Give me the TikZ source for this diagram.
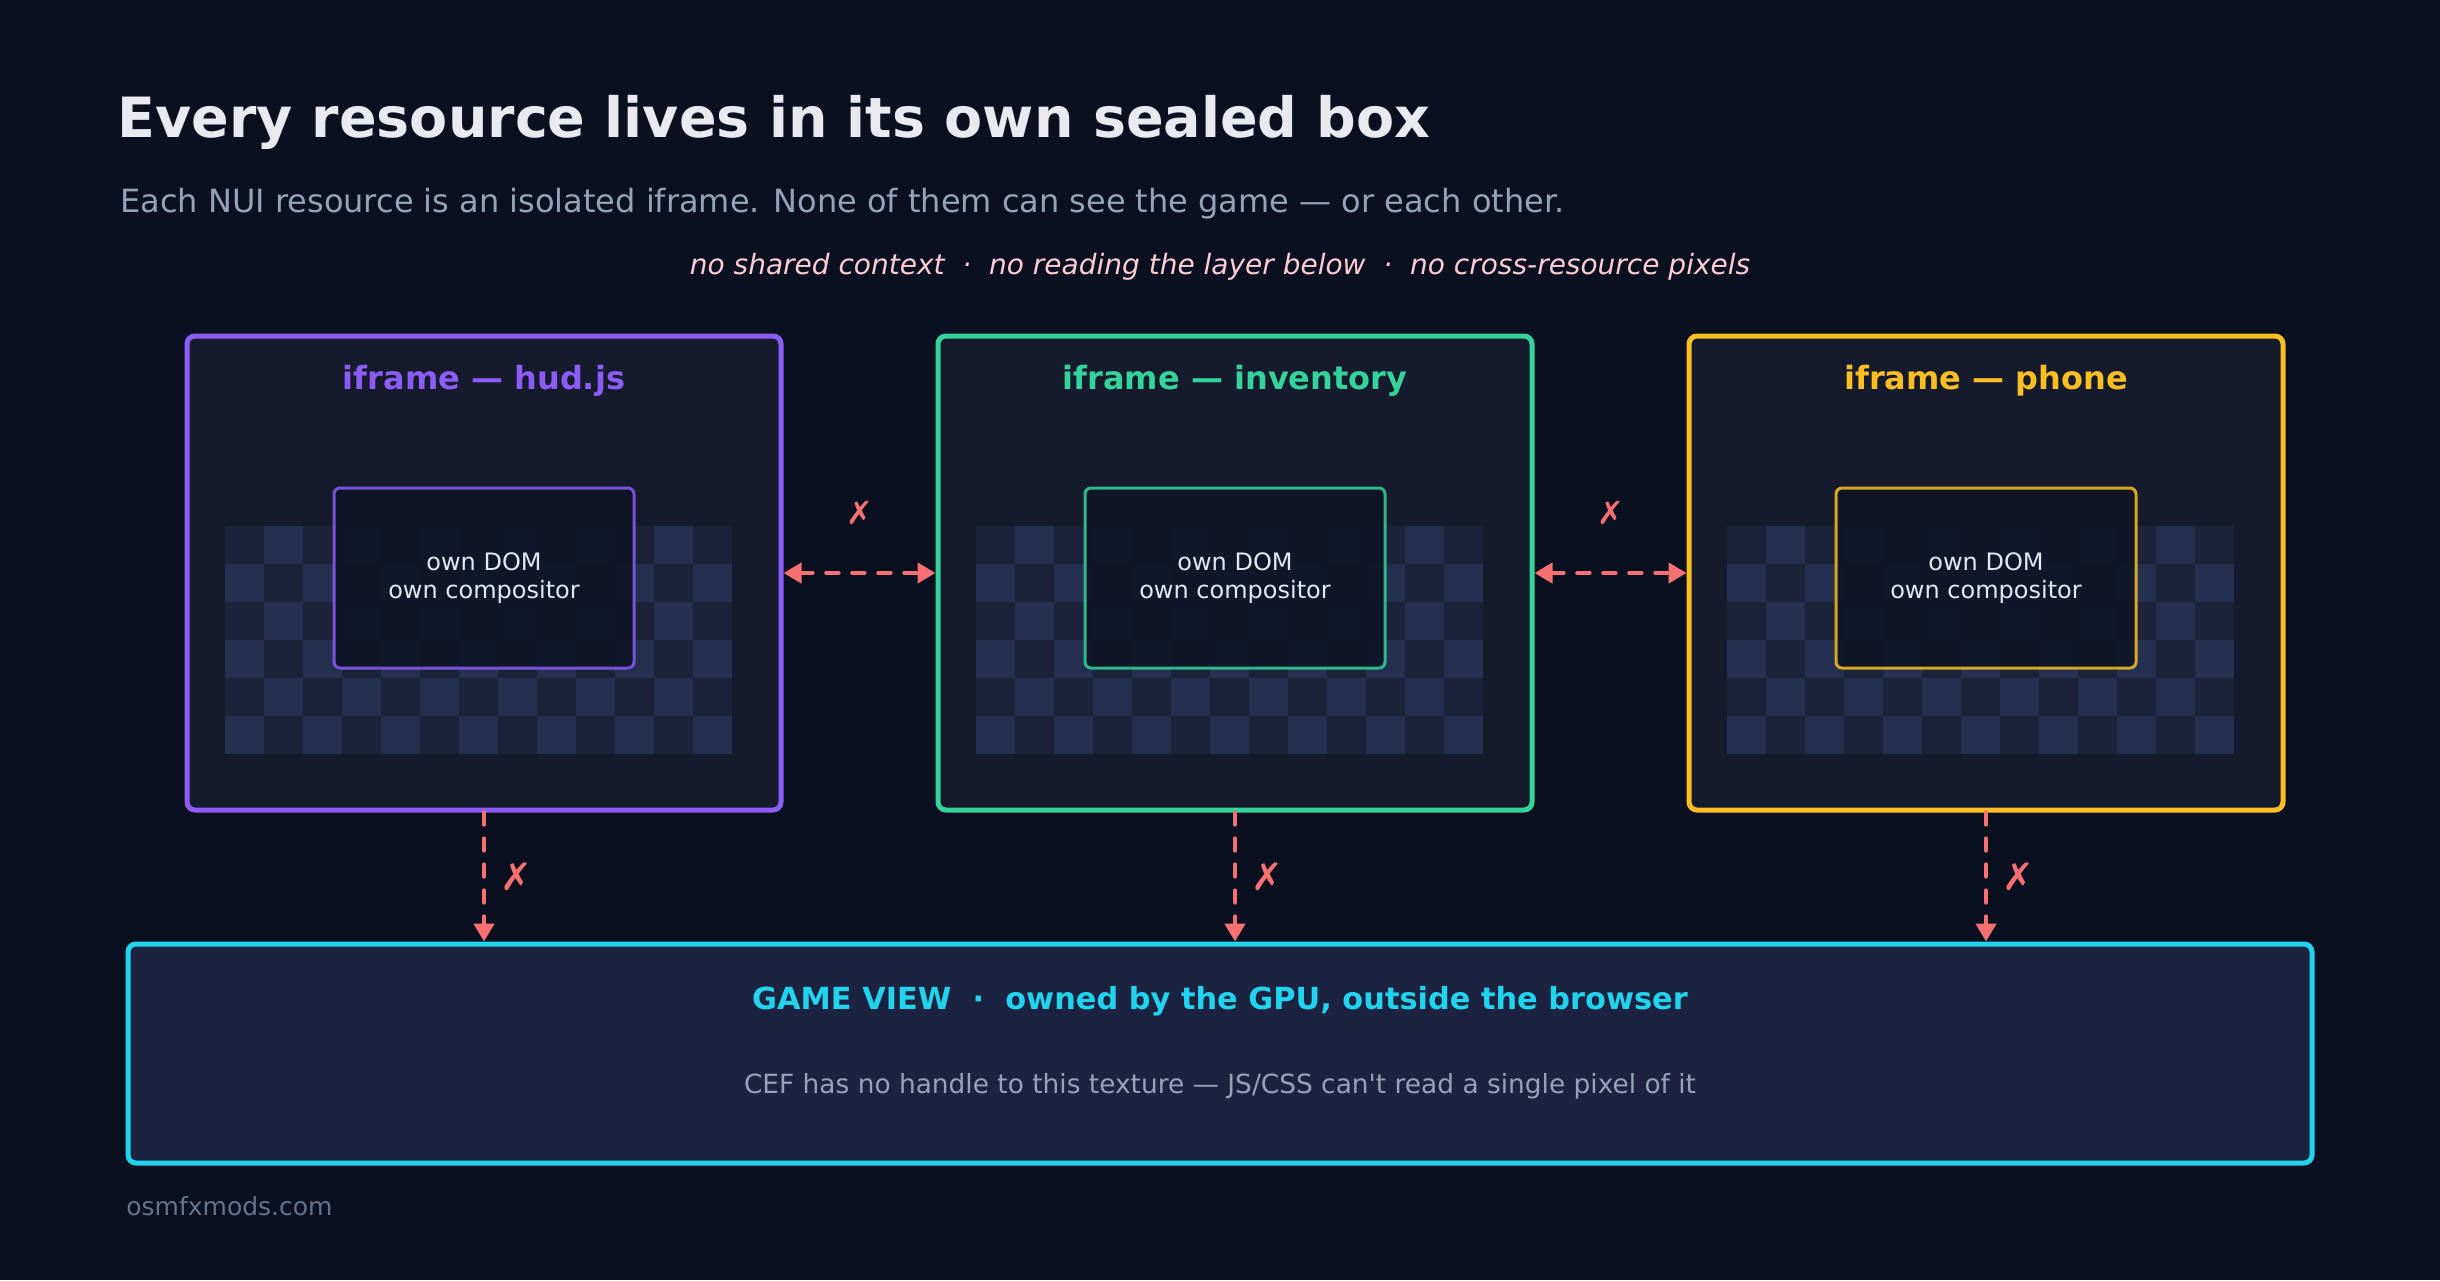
\documentclass[tikz,border=0pt]{standalone}
\usepackage{fontspec}
\setmainfont{DejaVu Sans}[Ligatures=TeXOff]
\usetikzlibrary{positioning,arrows.meta,calc}
\definecolor{pagebg}{HTML}{0B1020}
\definecolor{boxbg}{HTML}{151B2D}
\definecolor{corebg}{HTML}{0F1526}
\definecolor{gamebg}{HTML}{1C2340}
\definecolor{checkdark}{HTML}{1B2338}
\definecolor{checklight}{HTML}{233050}
\definecolor{hudpurple}{HTML}{8B5CF6}
\definecolor{invgreen}{HTML}{34D399}
\definecolor{phoneamber}{HTML}{FBBF24}
\definecolor{gamecyan}{HTML}{22D3EE}
\definecolor{denyred}{HTML}{F87171}
\definecolor{headtext}{HTML}{E8EAF0}
\definecolor{mutedtext}{HTML}{94A3B8}
\definecolor{fainttext}{HTML}{64748B}
\definecolor{ruletext}{HTML}{FECDD3}
\definecolor{coretext}{HTML}{E2E8F0}
\tikzset{
  frameb/.style={fill=boxbg, line width=2.5pt, rounded corners=4pt,
    minimum width=297pt, minimum height=237pt, inner sep=0pt},
  coreb/.style={fill=corebg, fill opacity=0.9, text opacity=1, draw opacity=0.85,
    line width=1.5pt, rounded corners=3pt, minimum width=150pt, minimum height=90pt,
    align=center, text=coretext, font=\fontsize{12}{13.7}\selectfont},
  gameb/.style={fill=gamebg, draw=gamecyan, line width=2.5pt, rounded corners=4pt,
    minimum width=1092pt, minimum height=109.5pt, inner sep=0pt},
  ftitle/.style={anchor=base, inner sep=0pt, font=\fontsize{16}{19}\selectfont\bfseries},
  txt/.style={anchor=base, inner sep=0pt},
  deny/.style={line width=2.2pt, draw=denyred, dash pattern=on 6pt off 7pt, line cap=round},
  denyboth/.style={deny, {Triangle[length=9pt,width=10pt]}-{Triangle[length=9pt,width=10pt]}},
  denydown/.style={deny, -{Triangle[length=9pt,width=10pt]}},
  nope/.style={text=denyred, inner sep=0pt},
}

\begin{document}
\begin{tikzpicture}[x=1pt, y=-1pt]
    \fill[pagebg] (0,0) rectangle (1220,640);
    \useasboundingbox (0,0) rectangle (1220,640);
    % heading
    \node[txt, anchor=base west, text=headtext, font=\fontsize{27.75}{34}\selectfont\bfseries] (head) at (58.5,68.7) {Every resource lives in its own sealed box};
    \node[txt, anchor=base west, text=mutedtext, font=\fontsize{16}{19}\selectfont] (sub) at (60,106) {Each NUI resource is an isolated iframe. None of them can see the game — or each other.};
    \node[txt, text=ruletext, font=\fontsize{14}{17}\selectfont\itshape] (rules) at (610,137) {no shared context~~·~~no reading the layer below~~·~~no cross-resource pixels};
    % iframes
    \node[frameb, draw=hudpurple] (hud) at (242,286.5) {};
    \node[frameb, draw=invgreen] (inv) at (617.5,286.5) {};
    \node[frameb, draw=phoneamber] (phone) at (993,286.5) {};
    % checker backdrop behind each core
    \foreach \cx in {112.5,488,863.5}
      \foreach \col in {0,...,12}
        \foreach \row in {0,...,5}{
          \pgfmathtruncatemacro{\cellodd}{mod(\col+\row,2)}
          \ifnum\cellodd=1 \def\cellc{checklight}\else\def\cellc{checkdark}\fi
          \fill[\cellc] (\cx+\col*19.5,263+\row*19) rectangle ++(19.5,19);
        }
    \node[coreb, draw=hudpurple] (hudcore) at (242,289) {own DOM\\own compositor};
    \node[coreb, draw=invgreen] (invcore) at (617.5,289) {own DOM\\own compositor};
    \node[coreb, draw=phoneamber] (phonecore) at (993,289) {own DOM\\own compositor};
    \node[ftitle, text=hudpurple] (hudtitle) at (242,194.5) {iframe — hud.js};
    \node[ftitle, text=invgreen] (invtitle) at (617.5,194.5) {iframe — inventory};
    \node[ftitle, text=phoneamber] (phonetitle) at (993,194.5) {iframe — phone};
    % game view
    \node[gameb] (game) at (610,526.75) {};
    \node[txt, text=gamecyan, font=\fontsize{15.2}{18}\selectfont\bfseries] (gametitle) at (610,504.5) {GAME VIEW~~·~~owned by the GPU, outside the browser};
    \node[txt, text=mutedtext, font=\fontsize{13.2}{16}\selectfont] (gamenote) at (610,546.7) {CEF has no handle to this texture — JS/CSS can't read a single pixel of it};
    % blocked paths
    \draw[denyboth] (hud.east) -- node[nope, above=23pt, font=\fontsize{16}{16}\selectfont] {✗} (inv.west);
    \draw[denyboth] (inv.east) -- node[nope, above=23pt, font=\fontsize{16}{16}\selectfont] {✗} (phone.west);
    \draw[denydown] (hud.south) -- node[nope, right=7pt, font=\fontsize{19}{19}\selectfont] {✗} (hud.south |- game.north);
    \draw[denydown] (inv.south) -- node[nope, right=7pt, font=\fontsize{19}{19}\selectfont] {✗} (inv.south |- game.north);
    \draw[denydown] (phone.south) -- node[nope, right=7pt, font=\fontsize{19}{19}\selectfont] {✗} (phone.south |- game.north);
    % footer
    \node[txt, anchor=base west, text=fainttext, font=\fontsize{12.5}{15}\selectfont] (site) at (63,607.5) {osmfxmods.com};
  \end{tikzpicture}
\end{document}
